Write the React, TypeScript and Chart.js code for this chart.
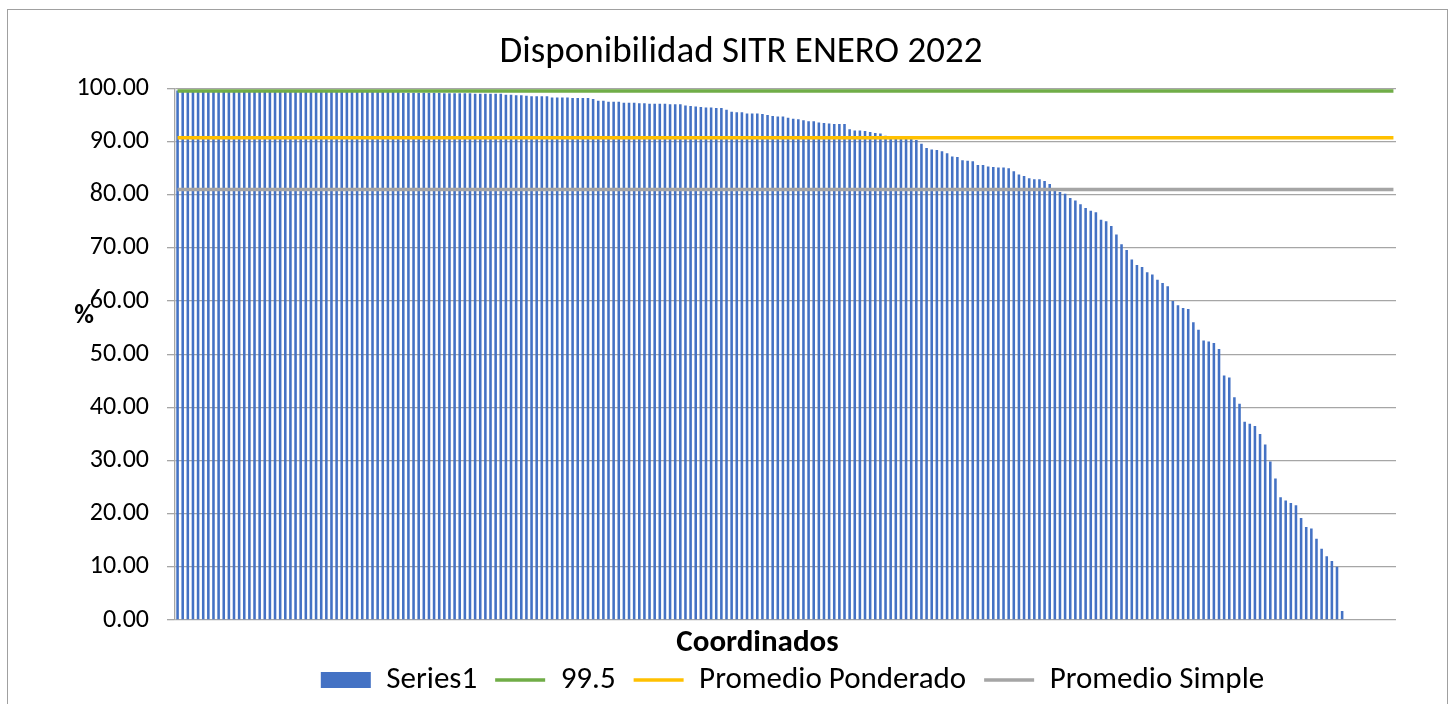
import { useEffect, useRef } from "react";
import { Chart, registerables } from "chart.js";

Chart.register(...registerables);

const FONT = "Carlito, Lato, sans-serif";

const chartTitle = "Disponibilidad SITR ENERO 2022";
const xAxisTitle = "Coordinados";
const yAxisTitle = "%";

const seriesNames = ["Series1", "99.5", "Promedio Ponderado", "Promedio Simple"];

// Availability per coordinado (%), sorted descending
const availability = [
  99.6, 99.6, 99.6, 99.6, 99.6, 99.6, 99.6, 99.6, 99.6, 99.6, 99.6, 99.6,
  99.5, 99.5, 99.5, 99.5, 99.5, 99.5, 99.5, 99.5, 99.5, 99.5, 99.5, 99.5,
  99.4, 99.4, 99.4, 99.4, 99.4, 99.4, 99.4, 99.4, 99.4, 99.4,
  99.3, 99.3, 99.3, 99.3, 99.3, 99.3, 99.3, 99.3, 99.3, 99.3,
  99.2, 99.2, 99.2, 99.2, 99.2, 99.2, 99.2, 99.2,
  99.1, 99.1, 99.1, 99.1, 99.1, 99.1,
  99.0, 99.0, 99.0, 99.0, 99.0, 99.0,
  98.8, 98.8, 98.7, 98.7, 98.6, 98.5, 98.5, 98.5, 98.5, 98.3, 98.3, 98.3,
  98.3, 98.2, 98.2, 98.2,
  98.2, 98.0, 97.7, 97.7, 97.5, 97.5, 97.5, 97.3, 97.3, 97.3, 97.2, 97.2,
  97.1, 97.1, 97.1, 97.1, 97.0, 97.0, 97.0, 96.8, 96.7, 96.6, 96.5, 96.4,
  96.4, 96.3, 96.3, 96.0, 95.6, 95.5, 95.5, 95.3, 95.3, 95.3, 95.2, 95.0,
  94.8, 94.7, 94.7, 94.5, 94.3,
  94.2, 94.0, 93.8, 93.8, 93.6, 93.5, 93.4, 93.3, 93.3, 93.3, 92.3, 92.1,
  92.1, 92.0, 91.8, 91.6, 91.5, 91.1, 90.9, 90.8, 90.7, 90.6, 90.5, 90.3,
  89.6, 88.8, 88.5, 88.4, 88.2, 87.8, 87.2, 87.1, 86.5, 86.4, 86.3, 85.6,
  85.6, 85.3, 85.2,
  85.1, 85.1, 85.0, 84.4, 83.8, 83.5, 83.1, 82.9, 82.9, 82.6, 82.0, 81.0,
  80.5, 80.2, 79.4, 78.9, 78.2, 77.5, 77.0, 76.7, 75.3, 75.0, 74.1, 72.5,
  70.7, 69.6, 67.8, 66.8, 66.4, 65.4,
  65.0, 64.0, 63.4, 62.8, 60.0, 59.2, 58.7, 58.5, 56.0, 54.6, 52.6, 52.4,
  52.1, 51.0, 46.0, 45.6, 41.9, 40.7, 37.3, 36.9, 36.5, 35.0, 33.0, 29.8,
  26.6, 23.1, 22.5, 22.0, 21.6, 19.2, 17.5, 17.2, 15.3, 13.4, 12.0, 11.1,
  10.0, 1.7,
];

// Category axis holds more coordinados than bars (trailing empty slots)
const categoryCount = 238;
const categories = Array.from({ length: categoryCount }, (_, i) => String(i + 1));

const target = 99.5;
const promedioPonderado = 90.7;
const promedioSimple = 81.0;

const yMin = 0;
const yMax = 100;
const yStep = 10;

const colors = {
  bar: "#4472C4",
  target: "#70AD47",
  ponderado: "#FFC000",
  simple: "#A5A5A5",
  grid: "#A6A6A6",
  text: "#000000",
};

function flatLine(value: number) {
  return [
    { x: categories[0], y: value },
    { x: categories[categories.length - 1], y: value },
  ];
}

// Upright "%" axis label beside the value axis, plus small block offsets as in the original
const percentTitlePlugin = {
  id: "percentTitle",
  afterLayout(chart: any) {
    const tb = chart.titleBlock;
    if (tb) {
      tb.left += 13;
      tb.right += 13;
    }
    const lg = chart.legend;
    if (lg) {
      lg.left += 7;
      lg.right += 7;
    }
  },
  afterDraw(chart: any) {
    const { ctx, chartArea, scales } = chart;
    ctx.save();
    ctx.font = `bold 27px ${FONT}`;
    ctx.fillStyle = colors.text;
    ctx.textAlign = "center";
    ctx.textBaseline = "alphabetic";
    ctx.fillText(yAxisTitle, chartArea.left - 91, scales.y.getPixelForValue(60) + 22);
    ctx.restore();
  },
};

export default function App() {
  const canvasRef = useRef<HTMLCanvasElement | null>(null);

  useEffect(() => {
    const canvas = canvasRef.current;
    if (!canvas) return;
    const chart = new Chart(canvas, {
      type: "bar",
      data: {
        labels: categories,
        datasets: [
          {
            type: "bar",
            label: seriesNames[0],
            data: availability,
            backgroundColor: colors.bar,
            borderWidth: 0,
            barPercentage: 0.5,
            categoryPercentage: 1,
            order: 1,
          },
          {
            type: "line",
            label: seriesNames[1],
            data: flatLine(target) as any,
            borderColor: colors.target,
            backgroundColor: colors.target,
            borderWidth: 3.5,
            pointRadius: 0,
            order: 0,
          },
          {
            type: "line",
            label: seriesNames[2],
            data: flatLine(promedioPonderado) as any,
            borderColor: colors.ponderado,
            backgroundColor: colors.ponderado,
            borderWidth: 3.5,
            pointRadius: 0,
            order: 0,
          },
          {
            type: "line",
            label: seriesNames[3],
            data: flatLine(promedioSimple) as any,
            borderColor: colors.simple,
            backgroundColor: colors.simple,
            borderWidth: 3.5,
            pointRadius: 0,
            order: 0,
          },
        ] as any,
      },
      options: {
        responsive: false,
        animation: false,
        layout: { padding: { left: 60, right: 54, top: 0, bottom: -1.5 } },
        plugins: {
          title: {
            display: true,
            text: chartTitle,
            color: colors.text,
            font: { family: FONT, size: 37, weight: "normal" },
            padding: { top: 31, bottom: 13 },
          },
          legend: {
            display: true,
            position: "bottom",
            fullSize: false,
            labels: {
              color: colors.text,
              font: { family: FONT, size: 31 },
              usePointStyle: true,
              pointStyleWidth: 50,
              boxHeight: 16,
              padding: 18,
              sort: (a: any, b: any) => a.datasetIndex - b.datasetIndex,
              generateLabels: (chart: any) =>
                chart.data.datasets.map((ds: any, i: number) => ({
                  text: ds.label,
                  fillStyle: ds.type === "bar" ? ds.backgroundColor : ds.borderColor,
                  strokeStyle: ds.type === "bar" ? ds.backgroundColor : ds.borderColor,
                  lineWidth: ds.type === "bar" ? 0 : 3.5,
                  pointStyle: ds.type === "bar" ? "rect" : "line",
                  fontColor: colors.text,
                  hidden: false,
                  datasetIndex: i,
                })),
            },
          },
          tooltip: { enabled: false },
        },
        scales: {
          x: {
            type: "category",
            grid: { display: false, drawTicks: false },
            border: { display: false },
            ticks: { display: false },
            title: {
              display: true,
              text: xAxisTitle + "        ",
              color: colors.text,
              font: { family: FONT, size: 31, weight: "bold", lineHeight: 1 },
              padding: { top: 7.5, bottom: -12 },
            },
          },
          y: {
            min: yMin,
            max: yMax,
            afterFit: (scale: any) => {
              scale.width = 115;
            },
            grid: {
              color: colors.grid,
              lineWidth: 1.3,
              drawTicks: true,
              tickLength: 8,
            },
            border: { display: true, color: colors.grid, width: 1.3 },
            ticks: {
              stepSize: yStep,
              padding: 18,
              color: colors.text,
              font: { family: FONT, size: 26 },
              callback: (v: any) => Number(v).toFixed(2),
            },
          },
        },
      },
      plugins: [percentTitlePlugin],
    });
    return () => chart.destroy();
  }, []);

  return (
    <div>
      <div
        style={{
          position: "absolute",
          left: 7,
          top: 9,
          width: 1441,
          height: 695,
          boxSizing: "border-box",
          border: "1.5px solid #A0A0A0",
          borderBottom: "none",
          background: "#FFFFFF",
        }}
      />
      <canvas
        ref={canvasRef}
        width={1450}
        height={704}
        style={{ position: "absolute", left: 0, top: 0, width: 1450, height: 704 }}
      />
    </div>
  );
}
